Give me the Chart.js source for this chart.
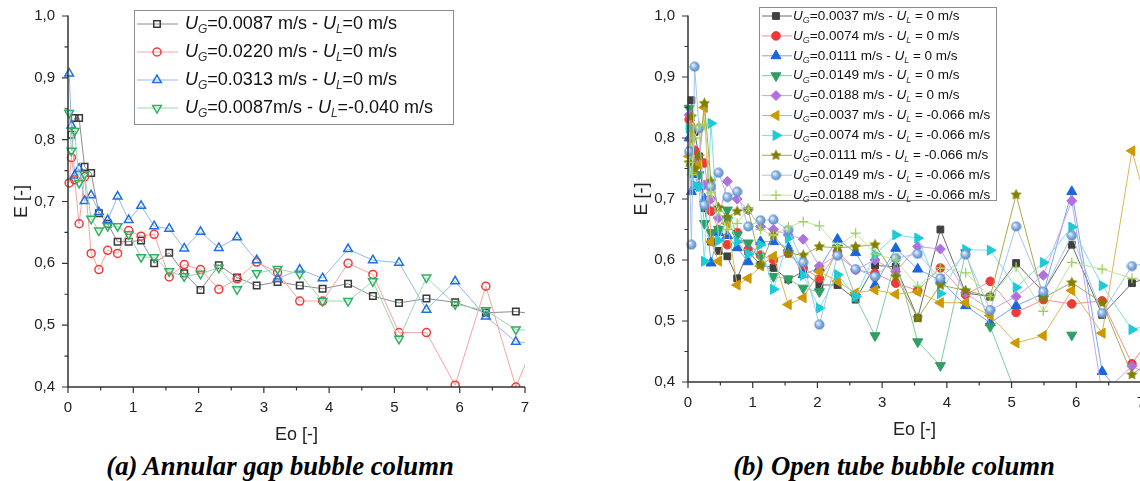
<!DOCTYPE html>
<html lang="en">
<head>
<meta charset="UTF-8">
<title>Aspect ratio E vs Eo</title>
<script src="https://cdn.jsdelivr.net/npm/chart.js"></script>
<style>
  html, body { margin: 0; padding: 0; background: #fff; width: 1140px; height: 481px; overflow: hidden; }
  body { position: relative; }
  canvas { position: absolute; top: 0; }
  #chartA { left: 0; }
  #chartB { left: 610px; }
  .caption { position: absolute; top: 451px; line-height: 30px; font: italic bold 26.7px "Liberation Serif", "Times New Roman", serif; white-space: nowrap; transform: translateX(-50%); color: #000; }
</style>
</head>
<body>
<canvas id="chartA" width="560" height="450"></canvas>
<canvas id="chartB" width="560" height="450"></canvas>
<div class="caption" style="left:280px">(a) Annular gap bubble column</div>
<div class="caption" style="left:894px">(b) Open tube bubble column</div>
<script>
// Eo classes (same for both panels)
const eo = [0.002, 0.018, 0.052, 0.102, 0.17, 0.254, 0.355, 0.473, 0.608, 0.76, 0.93, 1.12, 1.32, 1.55, 1.78,
            2.03, 2.31, 2.59, 2.89, 3.21, 3.55, 3.90, 4.29, 4.67, 5.07, 5.49, 5.93, 6.40, 6.86, 7.33];

const xTickValues = [0, 1, 2, 3, 4, 5, 6, 7];
const xMinorValues = [0.5, 1.5, 2.5, 3.5, 4.5, 5.5, 6.5];
const yTickValues = [0.4, 0.5, 0.6, 0.7, 0.8, 0.9, 1.0];
const yMinorValues = [0.45, 0.55, 0.65, 0.75, 0.85, 0.95];

// (a) annular gap
const annularLabels = ['U_G=0.0087 m/s - U_L=0 m/s', 'U_G=0.0220 m/s - U_L=0 m/s',
                       'U_G=0.0313 m/s - U_L=0 m/s', 'U_G=0.0087m/s - U_L=-0.040 m/s'];
const annular1 = [null, null, 0.808, 0.835, 0.835, 0.756, 0.746, 0.681, 0.664, 0.635, 0.635, 0.637, 0.600, 0.617, 0.584,
                  0.557, 0.597, 0.577, 0.564, 0.570, 0.564, 0.559, 0.567, 0.547, 0.536, 0.543, 0.537, 0.520, 0.522, 0.515];
const annular2 = [null, 0.730, 0.771, 0.735, 0.664, 0.740, 0.616, 0.590, 0.621, 0.616, 0.653, 0.644, 0.647, 0.578, 0.598,
                  0.590, 0.558, 0.575, 0.602, 0.585, 0.539, 0.539, 0.600, 0.582, 0.488, 0.488, 0.403, 0.563, 0.400, 0.520];
const annular3 = [null, 0.907, 0.823, 0.742, 0.753, 0.701, 0.710, 0.683, 0.670, 0.708, 0.670, 0.693, 0.660, 0.656, 0.624,
                  0.651, 0.625, 0.642, 0.605, 0.575, 0.590, 0.576, 0.623, 0.605, 0.601, 0.525, 0.571, 0.514, 0.473, 0.470];
const annular4 = [null, 0.843, 0.782, 0.814, 0.730, 0.744, 0.672, 0.653, 0.660, 0.660, 0.647, 0.610, 0.610, 0.587, 0.579,
                  0.583, 0.593, 0.558, 0.584, 0.591, 0.583, 0.539, 0.539, 0.571, 0.478, 0.577, 0.534, 0.524, 0.493, 0.490];

// (b) open tube
const openLabels = ['U_G=0.0037 m/s - U_L = 0 m/s', 'U_G=0.0074 m/s - U_L = 0 m/s', 'U_G=0.0111 m/s - U_L = 0 m/s',
                    'U_G=0.0149 m/s - U_L = 0 m/s', 'U_G=0.0188 m/s - U_L = 0 m/s', 'U_G=0.0037 m/s - U_L = -0.066 m/s',
                    'U_G=0.0074 m/s - U_L = -0.066 m/s', 'U_G=0.0111 m/s - U_L = -0.066 m/s',
                    'U_G=0.0149 m/s - U_L = -0.066 m/s', 'U_G=0.0188 m/s - U_L = -0.066 m/s'];
const open1 = [null, null, 0.862, 0.810, 0.770, 0.685, 0.630, 0.615, 0.606, 0.570, 0.614, 0.592, 0.587, 0.568, 0.581,
               0.559, 0.559, 0.535, 0.591, 0.589, 0.505, 0.650, 0.546, 0.540, 0.595, 0.548, 0.625, 0.510, 0.562, 0.580];
const open2 = [null, 0.830, 0.800, 0.780, 0.760, 0.759, 0.680, 0.650, 0.625, 0.645, 0.617, 0.608, 0.600, 0.611, 0.587,
               0.570, 0.614, 0.584, 0.578, 0.562, 0.550, 0.587, 0.543, 0.565, 0.514, 0.535, 0.528, 0.533, 0.430, 0.500];
const open3 = [null, 0.800, 0.712, 0.740, 0.720, 0.700, 0.595, 0.645, 0.640, 0.620, 0.597, 0.630, 0.630, 0.620, 0.576,
               0.587, 0.634, 0.612, 0.559, 0.619, 0.585, 0.567, 0.525, 0.497, 0.525, 0.545, 0.712, 0.417, 0.360, 0.350];
const open4 = [null, 0.849, 0.780, 0.748, 0.740, 0.660, 0.645, 0.650, 0.682, 0.641, 0.628, 0.606, 0.573, 0.569, 0.554,
               0.548, 0.620, 0.539, 0.476, 0.600, 0.466, 0.427, 0.612, 0.491, 0.380, null, 0.477, null, null, null];
const open5 = [null, 0.838, 0.800, 0.760, 0.720, 0.723, 0.700, 0.669, 0.729, 0.700, 0.682, 0.655, 0.650, 0.641, 0.634,
               0.590, 0.608, 0.584, 0.600, 0.581, 0.622, 0.618, 0.546, 0.518, 0.540, 0.575, 0.697, 0.380, 0.426, 0.400];
const open6 = [null, 0.770, 0.816, 0.748, 0.756, 0.850, 0.630, 0.598, 0.660, 0.559, 0.570, 0.590, 0.606, 0.527, 0.538,
               0.581, 0.565, 0.546, 0.551, 0.544, 0.548, 0.530, 0.530, 0.509, 0.464, 0.476, 0.550, 0.480, 0.779, 0.600];
const open7 = [null, 0.816, 0.750, 0.723, 0.720, 0.598, 0.824, 0.632, 0.669, 0.630, 0.610, 0.625, 0.552, 0.636, 0.575,
               0.521, 0.576, 0.540, 0.609, 0.641, 0.636, 0.545, 0.617, 0.616, 0.555, 0.596, 0.654, 0.558, 0.486, 0.500];
const open8 = [null, 0.760, 0.835, 0.750, 0.770, 0.857, 0.729, 0.686, 0.670, 0.680, 0.683, 0.592, 0.641, 0.611, 0.608,
               0.622, 0.620, 0.622, 0.625, 0.573, 0.505, 0.559, 0.550, 0.540, 0.707, 0.538, 0.563, 0.530, 0.412, 0.450];
const open9 = [null, 0.778, 0.625, 0.917, 0.816, 0.690, 0.720, 0.743, 0.703, 0.712, 0.655, 0.665, 0.666, 0.649, 0.596,
               0.494, 0.607, 0.585, 0.573, 0.603, 0.610, 0.570, 0.609, 0.518, 0.655, 0.548, 0.640, 0.513, 0.590, 0.600];
const open10 = [null, 0.760, 0.740, 0.800, 0.820, 0.822, 0.710, 0.680, 0.650, 0.660, 0.685, 0.650, 0.640, 0.654, 0.663,
                0.656, 0.622, 0.644, 0.610, 0.600, 0.557, 0.587, 0.579, 0.540, 0.588, 0.516, 0.596, 0.585, 0.570, 0.560];

const FAM = '"Liberation Sans", Arial, sans-serif';

// little bitmaps for the markers Chart.js does not have
function starImage(color, size) {
    const c = document.createElement('canvas');
    c.width = c.height = size;
    const g = c.getContext('2d');
    const r = size / 2;
    g.beginPath();
    for (let i = 0; i < 10; i++) {
        const a = -Math.PI / 2 + i * Math.PI / 5;
        const rr = i % 2 ? r * 0.45 : r - 0.5;
        g.lineTo(r + rr * Math.cos(a), r + rr * Math.sin(a));
    }
    g.closePath();
    g.fillStyle = color;
    g.fill();
    return c;
}
function sphereImage(size) {
    const c = document.createElement('canvas');
    c.width = c.height = size;
    const g = c.getContext('2d');
    const r = size / 2;
    const grd = g.createRadialGradient(r * 0.7, r * 0.7, 0.5, r, r, r);
    grd.addColorStop(0, '#e8f1fb');
    grd.addColorStop(0.45, '#8db4e2');
    grd.addColorStop(1, '#4b7fc0');
    g.beginPath();
    g.arc(r, r, r - 0.5, 0, Math.PI * 2);
    g.fillStyle = grd;
    g.fill();
    return c;
}

function series(label, values, st, i, n) {
    return {
        label: label,
        data: eo.map((x, k) => ({ x: x, y: values[k] })),
        borderColor: st.line,
        borderWidth: 1,
        pointStyle: st.shape,
        pointRotation: st.rot || 0,
        pointRadius: st.r,
        pointHoverRadius: st.r,
        pointBorderWidth: st.bw,
        pointBorderColor: st.color,
        pointBackgroundColor: st.fill,
        tension: 0,
        spanGaps: false,
        order: n - i,
        clip: { left: 8, top: 8, right: 0, bottom: 0 }
    };
}

const annularStyles = [
    { color: '#3a3a3a', line: '#8c8c8c', fill: 'rgba(0,0,0,0)', shape: 'rect', r: 4.6, bw: 1.5 },
    { color: '#f23a3a', line: '#f7a3a3', fill: 'rgba(0,0,0,0)', shape: 'circle', r: 4, bw: 1.5 },
    { color: '#2170e0', line: '#92b7ef', fill: 'rgba(0,0,0,0)', shape: 'triangle', r: 5, bw: 1.5 },
    { color: '#30b060', line: '#9bd7ae', fill: 'rgba(0,0,0,0)', shape: 'triangle', rot: 180, r: 5, bw: 1.5 }
];
const openStyles = [
    { color: '#404040', line: '#6a6a6a', fill: '#404040', shape: 'rect', r: 4.8, bw: 1 },
    { color: '#f03a3a', line: '#f59090', fill: '#f03a3a', shape: 'circle', r: 4.3, bw: 1 },
    { color: '#1a66dd', line: '#7aa5ec', fill: '#1a66dd', shape: 'triangle', r: 5.8, bw: 1 },
    { color: '#2f9f63', line: '#82caa1', fill: '#2f9f63', shape: 'triangle', rot: 180, r: 5.8, bw: 1 },
    { color: '#b070e0', line: '#cba2ef', fill: '#b070e0', shape: 'rectRot', r: 5, bw: 1 },
    { color: '#cc9900', line: '#dcb653', fill: '#cc9900', shape: 'triangle', rot: 270, r: 5.8, bw: 1 },
    { color: '#1dcad6', line: '#7ae0e6', fill: '#1dcad6', shape: 'triangle', rot: 90, r: 5.8, bw: 1 },
    { color: '#808000', line: '#a8a84c', fill: '#808000', shape: starImage('#808000', 13), r: 5, bw: 1 },
    { color: '#6a9fd8', line: '#a5c5ea', fill: '#6a9fd8', shape: sphereImage(11), r: 5, bw: 1 },
    { color: '#9fd05f', line: '#c0e39d', fill: '#9fd05f', shape: 'cross', r: 5, bw: 1.3 }
];

const annularValues = [annular1, annular2, annular3, annular4];
const openValues = [open1, open2, open3, open4, open5, open6, open7, open8, open9, open10];
const annularSets = annularValues.map((v, i) => series(annularLabels[i], v, annularStyles[i], i, 4));
const openSets = openValues.map((v, i) => series(openLabels[i], v, openStyles[i], i, 10));

// text with U_G / U_L subscripts
function drawRich(ctx, text, x, y, size) {
    const parts = text.split(/U_([GL])/);
    ctx.textBaseline = 'middle';
    ctx.textAlign = 'left';
    parts.forEach((p, k) => {
        if (k % 2 === 1) {
            ctx.fillStyle = '#111';
            ctx.font = 'italic ' + size + 'px ' + FAM;
            ctx.fillText('U', x, y);
            x += ctx.measureText('U').width;
            const s = Math.round(size * 0.68);
            ctx.fillStyle = '#333';
            ctx.font = 'italic ' + s + 'px ' + FAM;
            ctx.fillText(p, x, y + size * 0.32);
            x += ctx.measureText(p).width;
        } else if (p) {
            ctx.fillStyle = '#111';
            ctx.font = size + 'px ' + FAM;
            ctx.fillText(p, x, y);
            x += ctx.measureText(p).width;
        }
    });
}

// axis lines with major and minor ticks
const axesDraw = {
    id: 'axesDraw',
    afterDraw(chart) {
        const { ctx, chartArea: a, scales: { x, y } } = chart;
        ctx.save();
        ctx.strokeStyle = '#333';
        ctx.lineWidth = 1.5;
        ctx.beginPath();
        ctx.moveTo(a.left, a.top - 0.5);
        ctx.lineTo(a.left, a.bottom);
        ctx.lineTo(a.right, a.bottom);
        ctx.stroke();
        ctx.lineWidth = 1.2;
        ctx.beginPath();
        yTickValues.forEach(v => { const p = y.getPixelForValue(v); ctx.moveTo(a.left, p); ctx.lineTo(a.left - 6, p); });
        yMinorValues.forEach(v => { const p = y.getPixelForValue(v); ctx.moveTo(a.left, p); ctx.lineTo(a.left - 3.5, p); });
        xTickValues.forEach(v => { const p = x.getPixelForValue(v); ctx.moveTo(p, a.bottom); ctx.lineTo(p, a.bottom + 6); });
        xMinorValues.forEach(v => { const p = x.getPixelForValue(v); ctx.moveTo(p, a.bottom); ctx.lineTo(p, a.bottom + 3.5); });
        ctx.stroke();
        ctx.restore();
    }
};

// framed legend like the original figure
const legendBox = {
    id: 'legendBox',
    afterDraw(chart, args, o) {
        const ctx = chart.ctx;
        ctx.save();
        ctx.fillStyle = '#fff';
        ctx.fillRect(o.x, o.y, o.w, o.h);
        ctx.strokeStyle = '#8c8c8c';
        ctx.lineWidth = 1;
        ctx.strokeRect(o.x + 0.5, o.y + 0.5, o.w, o.h);
        chart.data.datasets.forEach((ds, i) => {
            const y = o.y + o.first + i * o.step;
            ctx.strokeStyle = ds.borderColor;
            ctx.lineWidth = 1;
            ctx.beginPath();
            ctx.moveTo(o.x + 3, y);
            ctx.lineTo(o.x + o.lineEnd, y);
            ctx.stroke();
            ctx.fillStyle = ds.pointBackgroundColor;
            ctx.strokeStyle = ds.pointBorderColor;
            ctx.lineWidth = ds.pointBorderWidth;
            Chart.helpers.drawPoint(ctx, {
                pointStyle: ds.pointStyle, rotation: ds.pointRotation,
                radius: ds.pointRadius * o.mark, borderWidth: ds.pointBorderWidth
            }, o.x + o.markX, y);
            drawRich(ctx, ds.label, o.x + o.textX, y, o.font);
        });
        ctx.restore();
    }
};

function makeChart(id, datasets, g) {
    return new Chart(document.getElementById(id), {
        type: 'line',
        data: { datasets: datasets },
        options: {
            responsive: false,
            animation: false,
            devicePixelRatio: 1,
            layout: { padding: { top: g.top, right: g.right, left: 0, bottom: 0 } },
            plugins: { legend: { display: false }, tooltip: { enabled: false }, legendBox: g.legend },
            scales: {
                x: {
                    type: 'linear', min: 0, max: 7,
                    grid: { display: false, drawTicks: false },
                    border: { display: false },
                    afterBuildTicks: s => { s.ticks = xTickValues.map(v => ({ value: v })); },
                    afterFit: s => { s.height = g.xHeight; },
                    ticks: { padding: 12, color: '#222', font: { family: FAM, size: 15 }, maxRotation: 0, autoSkip: false,
                             callback: v => String(v) },
                    title: { display: true, text: 'Eo [-]', color: '#222', font: { family: FAM, size: 18 },
                             padding: { top: 0, bottom: g.xTitlePad } }
                },
                y: {
                    type: 'linear', min: 0.4, max: 1.0,
                    grid: { display: false, drawTicks: false },
                    border: { display: false },
                    afterBuildTicks: s => { s.ticks = yTickValues.map(v => ({ value: v })); },
                    afterFit: s => { s.width = g.yWidth; s.paddingTop = 0; s.paddingBottom = 0; },
                    ticks: { padding: 13, color: '#222', font: { family: FAM, size: 15 },
                             callback: v => v.toFixed(1).replace('.', ',') },
                    title: { display: true, text: 'E [-]', color: '#222', font: { family: FAM, size: 18 },
                             padding: { top: g.yTitlePad, bottom: 0 } }
                }
            }
        },
        plugins: [axesDraw, legendBox]
    });
}

makeChart('chartA', annularSets, {
    top: 16, right: 35, xHeight: 63, yWidth: 68, xTitlePad: 4, yTitlePad: 11,
    legend: { x: 134, y: 10, w: 319, h: 114, first: 14, step: 28, lineEnd: 44, markX: 23, textX: 51, font: 18, mark: 1 }
});
makeChart('chartB', openSets, {
    top: 16, right: 29, xHeight: 68, yWidth: 78, xTitlePad: 9, yTitlePad: 21,
    legend: { x: 149, y: 7, w: 237, h: 193, first: 9, step: 19.9, lineEnd: 33, markX: 17, textX: 34, font: 13.5, mark: 1 }
});
</script>
</body>
</html>
